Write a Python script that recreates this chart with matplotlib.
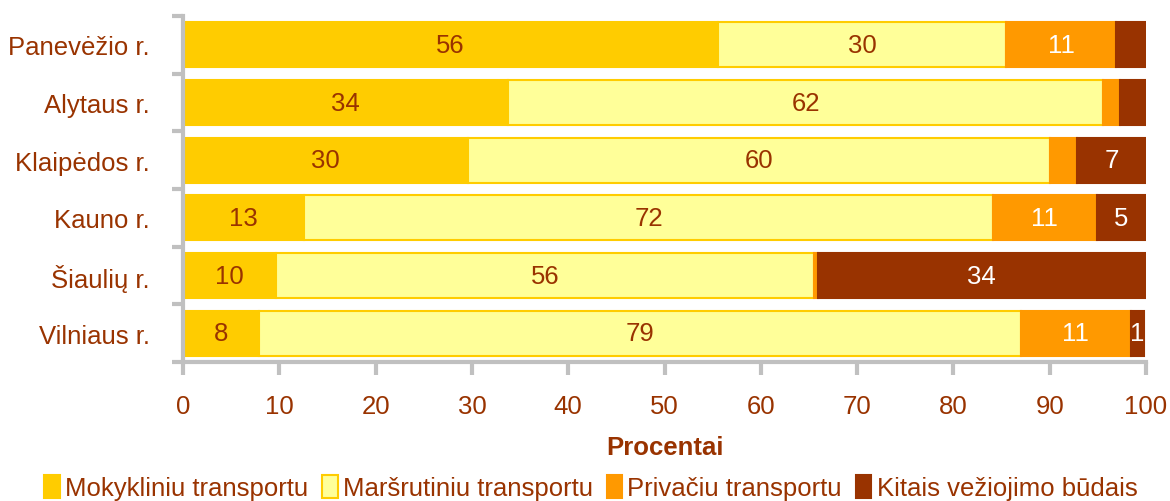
import matplotlib.pyplot as plt
import numpy as np

plt.rcParams['font.family'] = ['Liberation Sans', 'DejaVu Sans']

regions = ['Panevėžio r.', 'Alytaus r.', 'Klaipėdos r.', 'Kauno r.', 'Šiaulių r.', 'Vilniaus r.']
series_names = ['Mokykliniu transportu', 'Maršrutiniu transportu', 'Privačiu transportu', 'Kitais vežiojimo būdais']

school = [55.6, 33.8, 29.6, 12.6, 9.7, 7.9]
route = [29.9, 61.7, 60.4, 71.5, 55.8, 79.1]
private = [11.4, 1.8, 2.8, 10.8, 0.4, 11.4]
other = [3.1, 2.7, 7.2, 5.1, 34.1, 1.4]

# which segments carry a value label
show_school = [True, True, True, True, True, True]
show_route = [True, True, True, True, True, True]
show_private = [True, False, False, True, False, True]
show_other = [False, False, True, True, True, True]

colors = ['#FFCC00', '#FFFF99', '#FF9900', '#993300']
edges = ['#FFCC00', '#FFCC00', '#FF9900', '#993300']
text_colors = ['#993300', '#993300', 'white', 'white']
brown = '#993300'

fig = plt.figure(figsize=(11.7, 5.02), dpi=100)
ax = fig.add_axes([0.1564, 0.2769, 0.8231, 0.6892])

y = np.arange(len(regions))
left = np.zeros(len(regions))
for vals, shows, name, c, ec, tc in zip([school, route, private, other],
                                        [show_school, show_route, show_private, show_other],
                                        series_names, colors, edges, text_colors):
    vals = np.array(vals)
    ax.barh(y, vals, left=left, height=0.78, color=c, edgecolor=ec, linewidth=1.5, label=name)
    for yi, (l, v, s) in enumerate(zip(left, vals, shows)):
        if s:
            ax.text(l + v / 2, yi, f'{round(v):d}', ha='center', va='center', fontsize=18.5, color=tc)
    left += vals

ax.set_xlim(0, 100)
ax.set_ylim(len(regions) - 0.5, -0.5)
ax.set_xticks(np.arange(0, 101, 10))
ax.set_yticks(y)
ax.set_yticklabels(regions)
ax.set_yticks(np.arange(-0.5, len(regions), 1), minor=True)

for side in ['top', 'right']:
    ax.spines[side].set_visible(False)
for side in ['left', 'bottom']:
    ax.spines[side].set_color('#C0C0C0')
    ax.spines[side].set_linewidth(3)

ax.tick_params(axis='y', which='major', length=0, pad=24, labelsize=18.5, labelcolor=brown)
ax.tick_params(axis='y', which='minor', length=8, width=3, color='#C0C0C0')
ax.tick_params(axis='x', which='major', length=9, width=3, color='#C0C0C0', pad=14,
               labelsize=18.5, labelcolor=brown)

ax.set_xlabel('Procentai', fontsize=18.5, fontweight='bold', color=brown, labelpad=12)

fig.legend(loc='center', bbox_to_anchor=(0.505, 0.027), ncol=4, frameon=False,
           fontsize=18.5, labelcolor=brown, handlelength=0.6, handleheight=1.0,
           handletextpad=0.2, columnspacing=0.55, borderaxespad=0)

fig.savefig('out.png', dpi=100)
